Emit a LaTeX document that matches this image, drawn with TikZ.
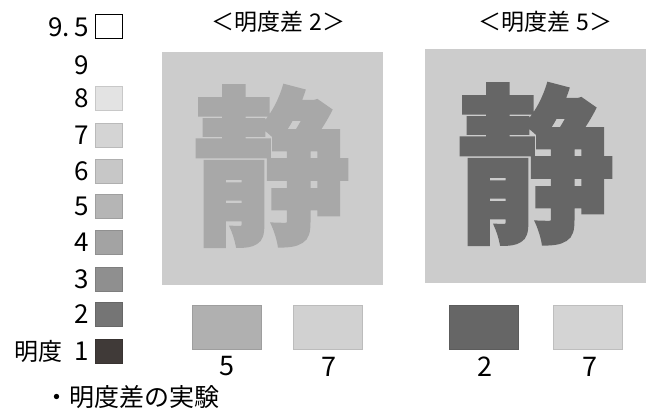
\documentclass[tikz,border=0pt]{standalone}
\usepackage{fontspec}
\setmainfont{Noto Sans CJK JP}
\newfontfamily\jp{Noto Sans CJK JP}
\newfontfamily\jpk{Noto Sans CJK JP}[BoldFeatures={FakeBold=1.5}]
\definecolor{g8}{gray}{0.89}
\definecolor{g7}{gray}{0.83}
\definecolor{g6}{gray}{0.78}
\definecolor{g5}{gray}{0.71}
\definecolor{g4}{gray}{0.64}
\definecolor{g3}{gray}{0.56}
\definecolor{g2}{gray}{0.46}
\definecolor{g1}{RGB}{64,58,56}
\definecolor{panelbg}{gray}{0.80}
\definecolor{charA}{gray}{0.66}
\definecolor{charB}{gray}{0.40}
\definecolor{swA}{gray}{0.69}
\definecolor{swB}{gray}{0.82}
\definecolor{swC}{gray}{0.40}
\definecolor{swD}{gray}{0.83}
\begin{document}
\begin{tikzpicture}[x=1pt,y=-1pt,
  lbl/.style={font=\jp\fontsize{26}{26}\selectfont, inner sep=0pt, anchor=east},
  num/.style={font=\jp\fontsize{27}{27}\selectfont, inner sep=0pt},
  sq/.style={minimum width=27pt, minimum height=24pt, inner sep=0pt, draw=#1!88!black, fill=#1, line width=0.5pt},
  panel/.style={minimum width=221pt, minimum height=233pt, inner sep=0pt, fill=panelbg},
  kanji/.style={inner sep=0pt, text=#1, font=\jpk\bfseries\fontsize{170}{170}\selectfont},
  swatch/.style={minimum width=69pt, minimum height=44pt, inner sep=0pt, fill=#1, draw=#1!90!black, line width=0.5pt},
  title/.style={font=\jp\fontsize{23}{23}\selectfont, inner sep=0pt},
  captxt/.style={font=\jp\fontsize{25}{25}\selectfont, inner sep=0pt, anchor=west}]
\useasboundingbox (0,0) rectangle (648,409);
% scale
\node[lbl] (l95) at (89,27) {9.\,5};
\node[sq=white, draw=black, line width=1pt] (s95) at (108.5,27) {};
\node[lbl] (l9) at (89,65) {9};
\node[lbl] (l8) at (89,98.5) {8};
\node[sq=g8] (s8) at (108.5,98.5) {};
\node[lbl] (l7) at (89,135) {7};
\node[sq=g7] (s7) at (108.5,135) {};
\node[lbl] (l6) at (89,171) {6};
\node[sq=g6] (s6) at (108.5,171) {};
\node[lbl] (l5) at (89,206) {5};
\node[sq=g5] (s5) at (108.5,206) {};
\node[lbl] (l4) at (89,242.5) {4};
\node[sq=g4] (s4) at (108.5,242.5) {};
\node[lbl] (l3) at (89,279) {3};
\node[sq=g3] (s3) at (108.5,279) {};
\node[lbl] (l2) at (89,314.5) {2};
\node[sq=g2] (s2) at (108.5,314.5) {};
\node[lbl] (l1) at (89,351) {\fontsize{24}{24}\selectfont 明度\hspace{12pt}\fontsize{26}{26}\selectfont 1};
\node[sq=g1] (s1) at (108.5,351) {};
% panels
\node[title] (t1) at (278.5,22) {＜明度差\hspace{6pt}2＞};
\node[title] (t2) at (545.5,22) {＜明度差\hspace{6pt}5＞};
\node[panel] (p1) at (272.5,168.5) {};
\node[panel] (p2) at (535.5,166) {};
\node[kanji=charA] (k1) at (272,166) {\scalebox{0.93}[1]{静}};
\node[kanji=charB] (k2) at (536,164) {\scalebox{0.93}[1]{静}};
% swatches
\node[swatch=swA] (w1) at (226.5,327) {};
\node[swatch=swB] (w2) at (328,327) {};
\node[swatch=swC] (w3) at (483.5,327) {};
\node[swatch=swD] (w4) at (588,327) {};
\node[num] (n1) at (227,366.5) {5};
\node[num] (n2) at (329,366.5) {7};
\node[num] (n3) at (485,366.5) {2};
\node[num] (n4) at (590,366.5) {7};
% caption
\node[captxt] (captn) at (44,397) {・明度差の実験};
\end{tikzpicture}
\end{document}
